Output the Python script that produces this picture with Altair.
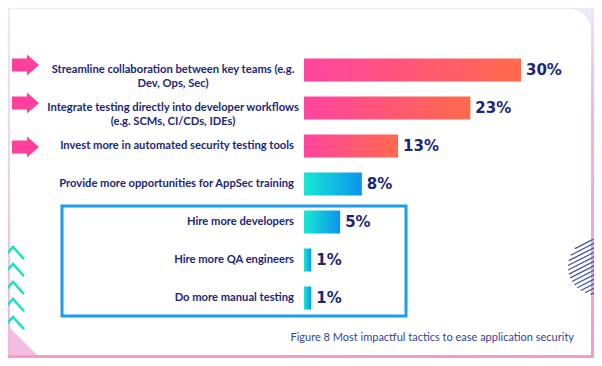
import math
import altair as alt
import pandas as pd

# ---------------- data ----------------
tactics = [
    "Streamline collaboration between key teams (e.g.\nDev, Ops, Sec)",
    "Integrate testing directly into developer workflows\n(e.g. SCMs, CI/CDs, IDEs)",
    "Invest more in automated security testing tools",
    "Provide more opportunities for AppSec training",
    "Hire more developers",
    "Hire more QA engineers",
    "Do more manual testing",
]
values = [30, 23, 13, 8, 5, 1, 1]
groups = ["Priority", "Priority", "Priority", "Other", "Other", "Other", "Other"]
caption = "Figure 8 Most impactful tactics to ease application security"

df = pd.DataFrame({"tactic": tactics, "value": values, "group": groups})
df["label"] = df["value"].astype(str) + "%"
df["lines"] = df["tactic"].str.count("\n") + 1
one = pd.DataFrame({"k": [0]})

# ---------------- style ----------------
NAVY = "#1C2679"
LABEL_FONT = "Lato"
VALUE_FONT = "DejaVu Sans"
W, H = 290, 350          # plot width (right of the axis) and full height
LEFT = 296               # axis position inside the chart

pink_grad = alt.Gradient(
    gradient="linear",
    stops=[alt.GradientStop(color="#FF44A1", offset=0),
           alt.GradientStop(color="#FF6A4B", offset=1)],
    x1=0, x2=1, y1=0, y2=0,
)
blue_grad = alt.Gradient(
    gradient="linear",
    stops=[alt.GradientStop(color="#17E8D3", offset=0),
           alt.GradientStop(color="#0C93EC", offset=1)],
    x1=0, x2=1, y1=0, y2=0,
)
right_grad = alt.Gradient(
    gradient="linear",
    stops=[alt.GradientStop(color="#EEE6F8", offset=0),
           alt.GradientStop(color="#F4B2D8", offset=0.3),
           alt.GradientStop(color="#F59AC9", offset=1)],
    x1=0, x2=0, y1=0, y2=1,
)
left_grad = alt.Gradient(
    gradient="linear",
    stops=[alt.GradientStop(color="#EFE6F8", offset=0),
           alt.GradientStop(color="#F2B6DC", offset=1)],
    x1=0, x2=0, y1=0, y2=1,
)

yscale = alt.Scale(domain=tactics, range=[43, 309], paddingInner=0, paddingOuter=0)
xscale = alt.Scale(domain=[0, 30], range=[0, 217])


def Y(ax=None):
    return alt.Y("tactic:N", scale=yscale, sort=tactics, axis=ax)


X = alt.X("value:Q", scale=xscale, axis=None)

yaxis = alt.Axis(title=None, labels=False, domainColor="#DDE0F0", tickColor="#DDE0F0",
                 tickSize=4, tickBand="extent", grid=False, zindex=1)

base = alt.Chart(df)
layers = []

# background card and edges
layers.append(alt.Chart(one).mark_rect(color="white", cornerRadiusTopRight=22).encode(
    x=alt.value(-294), x2=alt.value(W - 3), y=alt.value(1), y2=alt.value(H - 3)))
layers.append(alt.Chart(one).mark_rect(color=right_grad).encode(
    x=alt.value(W - 3), x2=alt.value(W), y=alt.value(0), y2=alt.value(H)))
layers.append(alt.Chart(one).mark_rect(color=left_grad).encode(
    x=alt.value(-LEFT), x2=alt.value(-294), y=alt.value(0), y2=alt.value(H)))
layers.append(alt.Chart(one).mark_rect(color="#F59AC9").encode(
    x=alt.value(-LEFT), x2=alt.value(W), y=alt.value(H - 3), y2=alt.value(H)))
# chamfer bottom-left
layers.append(alt.Chart(one).mark_point(
    shape="M-1,-1 L-1,1 L1,1 Z", size=729, filled=True, opacity=1,
    color="#F3BCE0", strokeWidth=0).encode(x=alt.value(-280.5), y=alt.value(H - 3 - 13.5)))

# chevrons
for cy in [245, 262, 280, 297, 315]:
    layers.append(alt.Chart(one).mark_point(
        shape="M-1,0.55 L0,-0.55 L1,0.55", size=484, filled=False, opacity=1,
        color="#1FDFC8", strokeWidth=2.5).encode(x=alt.value(-LEFT + 5), y=alt.value(cy)))

# hatched circle
cx0, cy0, r = 292, 259, 28
ang = math.radians(27)
dx_, dy_ = math.cos(ang), -math.sin(ang)
nx_, ny_ = math.sin(ang), math.cos(ang)
off = -r + 2
while off < r:
    half = math.sqrt(max(r * r - off * off, 0))
    px, py = cx0 + nx_ * off, cy0 + ny_ * off
    layers.append(alt.Chart(one).mark_rule(color="#4654A8", strokeWidth=1.3).encode(
        x=alt.value(px - dx_ * half), y=alt.value(py - dy_ * half),
        x2=alt.value(px + dx_ * half), y2=alt.value(py + dy_ * half)))
    off += 4

# blue highlight box
layers.append(alt.Chart(one).mark_rect(fill="transparent", stroke="#1D9BF0", strokeWidth=3).encode(
    x=alt.value(-242), x2=alt.value(102), y=alt.value(198), y2=alt.value(308)))

# bars
layers.append(base.transform_filter("datum.group == 'Priority'").mark_bar(
    color=pink_grad, size=23).encode(x=X, y=Y(yaxis)))
layers.append(base.transform_filter("datum.group == 'Other'").mark_bar(
    color=blue_grad, size=23).encode(x=X, y=Y()))

# value labels
layers.append(base.mark_text(align="left", baseline="middle", dx=5, font=VALUE_FONT,
                             fontSize=15, fontWeight="bold", color=NAVY).encode(
    x=X, y=Y(), text="label:N"))

# category labels
layers.append(base.transform_filter("datum.lines == 1").mark_text(
    align="right", baseline="middle", font=LABEL_FONT, fontSize=11.2, fontWeight="bold",
    color=NAVY).encode(x=alt.value(-10), y=Y(), text="tactic:N"))
layers.append(base.transform_filter("datum.lines == 2").mark_text(
    align="center", baseline="middle", font=LABEL_FONT, fontSize=11.2, fontWeight="bold",
    color=NAVY, lineBreak="\n", lineHeight=14).encode(x=alt.value(-131), y=Y(), text="tactic:N"))

# arrows for priority tactics
arrow = "M-1,-0.48 L0.11,-0.48 L0.11,-0.78 L1,0 L0.11,0.78 L0.11,0.48 L-1,0.48 Z"
layers.append(base.transform_filter("datum.group == 'Priority' && datum.lines == 2").mark_point(
    shape=arrow, size=729, filled=True, opacity=1, color="#FF3F9C", strokeWidth=0, yOffset=-5).encode(
    x=alt.value(-278.5), y=Y()))
layers.append(base.transform_filter("datum.group == 'Priority' && datum.lines == 1").mark_point(
    shape=arrow, size=729, filled=True, opacity=1, color="#FF3F9C", strokeWidth=0, yOffset=1).encode(
    x=alt.value(-278.5), y=Y()))

# caption
layers.append(alt.Chart(one).mark_text(align="right", baseline="middle", font=LABEL_FONT,
                                       fontSize=11, color="#33439A").encode(
    x=alt.value(270), y=alt.value(330), text=alt.value(caption)))

chart = alt.layer(*layers).properties(
    width=W, height=H,
    padding={"left": LEFT, "top": 0, "right": 0, "bottom": 0},
    autosize=alt.AutoSizeParams(type="none"),
    background="#EEE9F8",
).configure_view(stroke=None)

chart.save("out.html", embed_options={"renderer": "svg", "actions": False})
